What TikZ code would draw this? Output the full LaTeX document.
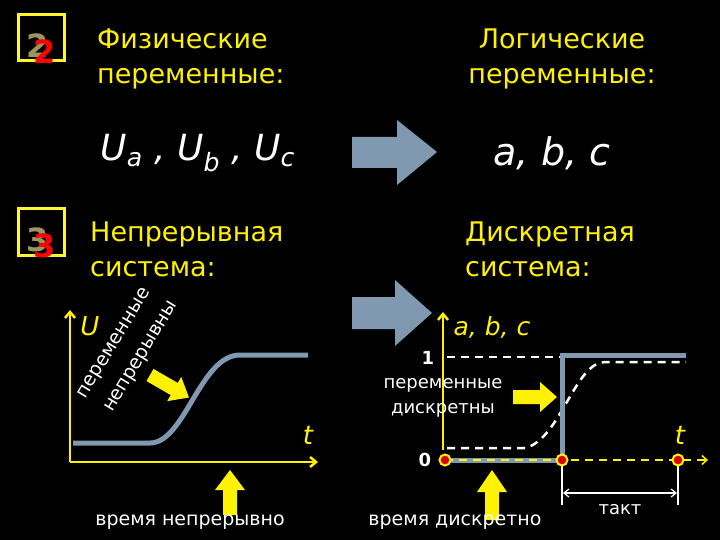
\documentclass[tikz,border=0pt]{standalone}
\usepackage{fontspec}
\setmainfont{DejaVu Sans}
\usetikzlibrary{arrows.meta}
\definecolor{yel}{HTML}{FFF200}
\definecolor{gb}{HTML}{8098B0}
\definecolor{olv}{HTML}{9A9560}
\tikzset{x=1pt,y=-1pt,
 ytxt/.style={text=yel,font=\fontsize{27}{35}\selectfont,align=left,inner sep=0},
 wtxt/.style={text=white,font=\fontsize{20}{23}\selectfont,inner sep=0},
 axis/.style={yel,line width=2.5pt,-{Straight Barb[length=6pt,width=10pt]}},
 curve/.style={gb,line width=5pt},
 dot/.style={circle,fill=red!85!black,draw=yel,line width=2pt,minimum size=11pt,inner sep=0},
 icon/.style={draw=yel!80!white,line width=3pt,minimum size=46pt,inner sep=0},
}
\begin{document}
\begin{tikzpicture}
\fill[black] (0,0) rectangle (720,540);
\useasboundingbox (0,0) rectangle (720,540);
% icons
\foreach \n/\y in {2/38,3/232}{
 \node[icon] (box\n) at (41,\y) {};
 \node[text=olv,font=\bfseries\fontsize{32}{32}\selectfont] at (38,\y+8) {\n};
 \node[text=red,font=\bfseries\fontsize{32}{32}\selectfont] at (45,\y+14) {\n};
}
\node[ytxt,anchor=west] (fiz) at (97,59) {Физические\\переменные:};
\node[ytxt,align=center] (log) at (562,59) {Логические\\переменные:};
\node[text=white,font=\itshape\fontsize{36}{36}\selectfont,anchor=west] (uabc) at (97,153) {U\textsubscript{a} , U\textsubscript{b} , U\textsubscript{c}};
\node[text=white,font=\itshape\fontsize{38}{38}\selectfont] (abc) at (552,153) {a, b, c};
% big arrows
\fill[gb] (352,137) -- (397,137) -- (397,120) -- (437,152) -- (397,185) -- (397,168) -- (352,168) -- cycle;
\fill[gb] (352,297) -- (395,297) -- (395,280) -- (432,313) -- (395,346) -- (395,329) -- (352,329) -- cycle;
\node[ytxt,anchor=west] (nep) at (90,249) {Непрерывная\\система:};
\node[ytxt,anchor=west] (dis) at (465,249) {Дискретная\\система:};
% left plot
\coordinate (o1) at (70,462);
\coordinate (yt1) at (70,310);
\coordinate (xt1) at (318,462);
\draw[axis] (o1) -- (yt1);
\draw[axis] (o1) -- (xt1);
\node[text=yel,font=\itshape\fontsize{26}{26}\selectfont] (U) at (90,326) {U};
\node[text=yel,font=\itshape\fontsize{26}{26}\selectfont] (t1) at (308,435) {t};
\draw[curve] (73,443) -- (150,443) .. controls (185,443) and (200,355) .. (240,355) -- (308,355);
\node[wtxt,font=\fontsize{19}{21}\selectfont,rotate=59] (per1) at (115,344) {переменные};
\node[wtxt,font=\fontsize{19}{21}\selectfont,rotate=59] (nepr) at (142,357) {непрерывны};
\fill[yel,shift={(150,375)},rotate=-30] (0,-7) -- (28,-7) -- (28,-14) -- (45,0) -- (28,14) -- (28,7) -- (0,7) -- cycle;
\fill[yel] (223,515) -- (223,490) -- (215,490) -- (230,470) -- (245,490) -- (237,490) -- (237,515) -- cycle;
\fill[yel] (485,520) -- (485,492) -- (477,492) -- (492,470) -- (507,492) -- (499,492) -- (499,520) -- cycle;
\node[wtxt,font=\fontsize{19}{20}\selectfont] (vn) at (190,522) {время непрерывно};
% right plot
\coordinate (yt2) at (443,312);
\coordinate (xt2) at (708,460);
\draw[axis] (443,450) -- (yt2);
\node[text=yel,font=\itshape\fontsize{25}{25}\selectfont] (abc2) at (492,327) {a, b, c};
\node[text=white,font=\bfseries\fontsize{18}{18}\selectfont] (one) at (428,358) {1};
\node[text=white,font=\bfseries\fontsize{18}{18}\selectfont] (zero) at (425,460) {0};
\draw[white,line width=2pt,dash pattern=on 8pt off 6pt] (447,357) -- (560,357);
\draw[white,line width=2.5pt,dash pattern=on 8pt off 6pt] (447,448) -- (525,448) .. controls (560,440) and (575,362) .. (605,362) -- (686,362);
\draw[curve] (445,460) -- (562,460) -- (562,355) -- (686,355);
\draw[yel,line width=1.5pt,dash pattern=on 8pt off 6pt,-{Straight Barb[length=5pt,width=9pt]}] (445,460) -- (xt2);
\node[wtxt,align=center,font=\fontsize{18}{25}\selectfont] (pd) at (443,398) {переменные\\дискретны};
\fill[yel] (513,390) -- (540,390) -- (540,382) -- (557,397) -- (540,412) -- (540,404) -- (513,404) -- cycle;
\draw[white,line width=1.2pt] (562,462) -- (562,505) (678,462) -- (678,505);
\draw[white,line width=1.2pt,{Straight Barb[length=5pt,width=8pt]}-{Straight Barb[length=5pt,width=8pt]}] (563,493) -- (677,493);
\node[dot] (d1) at (445,460) {};
\node[dot] (d2) at (562,460) {};
\node[dot] (d3) at (678,460) {};
\node[text=yel,font=\itshape\fontsize{26}{26}\selectfont] (t2) at (680,435) {t};
\node[wtxt,font=\fontsize{18}{18}\selectfont] (takt) at (620,510) {такт};
\node[wtxt,font=\fontsize{19}{20}\selectfont] (vd) at (455,522) {время дискретно};
\end{tikzpicture}
\end{document}
